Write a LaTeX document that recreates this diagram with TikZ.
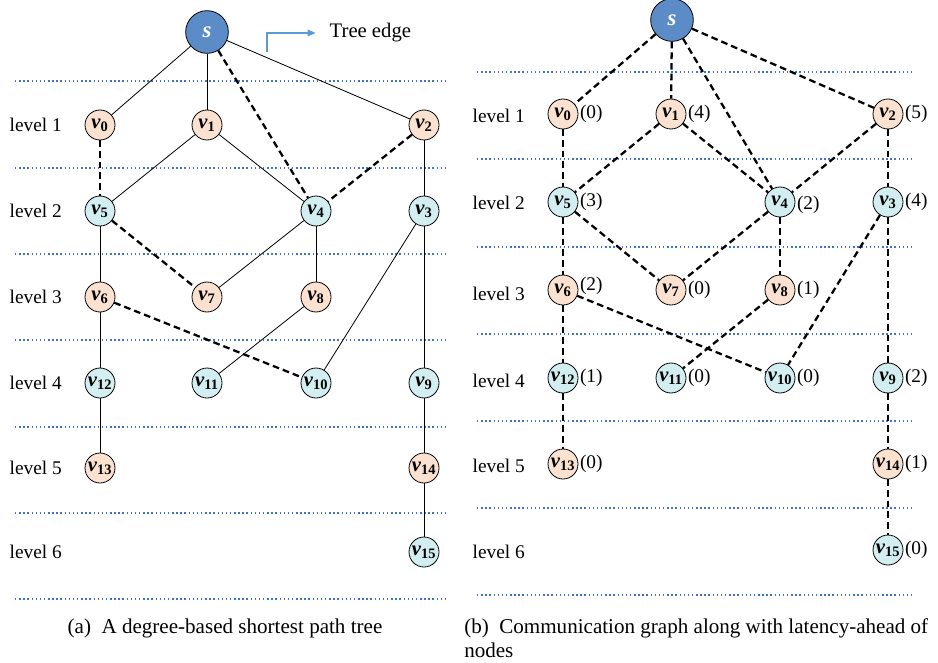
\documentclass[tikz,border=0pt]{standalone}
\usepackage{fontspec}
\setmainfont{Liberation Serif}
\usetikzlibrary{arrows.meta}
\definecolor{srcblue}{HTML}{5B8CC8}
\definecolor{peach}{HTML}{FBE2D0}
\definecolor{aqua}{HTML}{D2EEF1}
\definecolor{levelline}{HTML}{4472C4}
\definecolor{legendblue}{HTML}{5B9BD5}
\newcommand\vx[1]{v\textsubscript{\upshape #1}}
\begin{document}
\begin{tikzpicture}[x=0.75pt,y=-0.75pt,font=\fontsize{14.5}{16}\selectfont,
  vtx/.style={draw,circle,inner sep=0pt,minimum size=22.5pt,line width=0.6pt,font=\fontsize{15.5}{16}\selectfont\bfseries\itshape},
  src/.style={vtx,fill=srcblue,minimum size=32pt,text=white,font=\fontsize{17}{18}\selectfont\bfseries\itshape},
  orange/.style={vtx,fill=peach},
  cyan/.style={vtx,fill=aqua},
  tree/.style={line width=0.6pt},
  comm/.style={line width=1.7pt,dash pattern=on 5pt off 3pt},
  lat/.style={inner sep=1pt,anchor=west},
  lvl/.style={anchor=west},
  captext/.style={font=\fontsize{15.8}{18}\selectfont},
  levelsep/.style={levelline,line width=1.1pt,dotted}]
  \useasboundingbox (0,0) rectangle (938,663);
  %% (a) shortest path tree
  \foreach \y in {81,168,254,340,427,513,599}
    \draw[levelsep] (15,\y) -- (447,\y);
  \foreach \l/\y in {1/125,2/211,3/297,4/383,5/468,6/552}
    \node[lvl] at (5,\y) {level \l};
  \node (as) at (207,32) [src] {s};
  \node (a0) at (100,125) [orange] {\vx{0}};
  \node (a1) at (207,125) [orange] {\vx{1}};
  \node (a2) at (424,125) [orange] {\vx{2}};
  \node (a5) at (100,211) [cyan] {\vx{5}};
  \node (a4) at (316,211) [cyan] {\vx{4}};
  \node (a3) at (424,211) [cyan] {\vx{3}};
  \node (a6) at (100,297) [orange] {\vx{6}};
  \node (a7) at (207,297) [orange] {\vx{7}};
  \node (a8) at (316,297) [orange] {\vx{8}};
  \node (a12) at (100,383) [cyan] {\vx{12}};
  \node (a11) at (207,383) [cyan] {\vx{11}};
  \node (a10) at (316,383) [cyan] {\vx{10}};
  \node (a9) at (424,383) [cyan] {\vx{9}};
  \node (a13) at (100,468) [orange] {\vx{13}};
  \node (a14) at (424,468) [orange] {\vx{14}};
  \node (a15) at (424,552) [cyan] {\vx{15}};
  \draw[tree] (as) -- (a0);
  \draw[tree] (as) -- (a1);
  \draw[tree] (as) -- (a2);
  \draw[tree] (a1) -- (a5);
  \draw[tree] (a1) -- (a4);
  \draw[tree] (a2) -- (a3);
  \draw[tree] (a5) -- (a6);
  \draw[tree] (a4) -- (a7);
  \draw[tree] (a4) -- (a8);
  \draw[tree] (a3) -- (a10);
  \draw[tree] (a3) -- (a9);
  \draw[tree] (a8) -- (a11);
  \draw[tree] (a6) -- (a12);
  \draw[tree] (a12) -- (a13);
  \draw[tree] (a9) -- (a14);
  \draw[tree] (a14) -- (a15);
  \draw[comm] (as) -- (a4);
  \draw[comm] (a0) -- (a5);
  \draw[comm] (a2) -- (a4);
  \draw[comm] (a5) -- (a7);
  \draw[comm] (a6) -- (a10);
  % legend
  \coordinate (legfoot) at (267,52);
  \node (legtext) at (325,33) [anchor=west,font=\fontsize{15.5}{16}\selectfont] {Tree edge};
  \draw[legendblue,line width=0.8pt,-{Triangle[length=6pt,width=5pt]}] (legfoot) |- ([xshift=-7pt]legtext.west);
  \node (capa) at (225,628) [captext] {(a)\enspace A degree-based shortest path tree};
  %% (b) communication graph
  \foreach \y in {72,159,247,334,421,508,595}
    \draw[levelsep] (477,\y) -- (912,\y);
  \foreach \l/\y in {1/116,2/203,3/294,4/381,5/466,6/552}
    \node[lvl] at (468,\y) {level \l};
  \node (bs) at (672,20) [src] {s};
  \node (b0) at (563,114) [orange,label={[lat]right:(0)}] {\vx{0}};
  \node (b1) at (671,114) [orange,label={[lat]right:(4)}] {\vx{1}};
  \node (b2) at (888,114) [orange,label={[lat]right:(5)}] {\vx{2}};
  \node (b5) at (563,202) [cyan,label={[lat]right:(3)}] {\vx{5}};
  \node (b4) at (780,202) [cyan,label={[lat,yshift=-2pt]right:(2)}] {\vx{4}};
  \node (b3) at (888,202) [cyan,label={[lat]right:(4)}] {\vx{3}};
  \node (b6) at (563,290) [orange,label={[lat,yshift=3pt]right:(2)}] {\vx{6}};
  \node (b7) at (671,290) [orange,label={[lat]right:(0)}] {\vx{7}};
  \node (b8) at (780,290) [orange,label={[lat]right:(1)}] {\vx{8}};
  \node (b12) at (563,378) [cyan,label={[lat]right:(1)}] {\vx{12}};
  \node (b11) at (671,378) [cyan,label={[lat]right:(0)}] {\vx{11}};
  \node (b10) at (780,378) [cyan,label={[lat]right:(0)}] {\vx{10}};
  \node (b9) at (888,378) [cyan,label={[lat]right:(2)}] {\vx{9}};
  \node (b13) at (563,464) [orange,label={[lat]right:(0)}] {\vx{13}};
  \node (b14) at (888,464) [orange,label={[lat]right:(1)}] {\vx{14}};
  \node (b15) at (888,550) [cyan,label={[lat]right:(0)}] {\vx{15}};
  \draw[comm] (bs) -- (b0);
  \draw[comm] (bs) -- (b1);
  \draw[comm] (bs) -- (b4);
  \draw[comm] (bs) -- (b2);
  \draw[comm] (b0) -- (b5);
  \draw[comm] (b1) -- (b5);
  \draw[comm] (b1) -- (b4);
  \draw[comm] (b2) -- (b4);
  \draw[comm] (b2) -- (b3);
  \draw[comm] (b5) -- (b7);
  \draw[comm] (b4) -- (b7);
  \draw[comm] (b4) -- (b8);
  \draw[comm] (b5) -- (b6);
  \draw[comm] (b6) -- (b12);
  \draw[comm] (b6) -- (b10);
  \draw[comm] (b8) -- (b11);
  \draw[comm] (b3) -- (b10);
  \draw[comm] (b3) -- (b9);
  \draw[comm] (b12) -- (b13);
  \draw[comm] (b9) -- (b14);
  \draw[comm] (b14) -- (b15);
  \node (capb) at (464,657) [captext,anchor=base west,inner sep=0pt,align=left]
    {(b)\enspace Communication graph along with latency-ahead of\\nodes};
\end{tikzpicture}
\end{document}
